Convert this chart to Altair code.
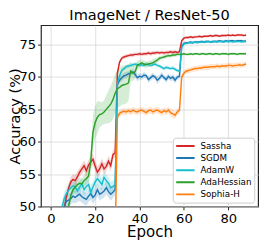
import altair as alt
import pandas as pd

epochs = list(range(89))

methods = ["Sassha", "SGDM", "AdamW", "AdaHessian", "Sophia-H"]
colors = ["#d62728", "#1f77b4", "#17becf", "#2ca02c", "#ff7f0e"]

sassha = [30.0, 38.0, 42.0, 45.0, 47.0, 48.5, 49.6, 51.5, 52.8, 53.8,
          54.2, 54.0, 54.6, 55.3, 55.8, 56.3, 55.5, 56.4, 56.9, 57.3,
          56.2, 55.3, 55.8, 56.6, 55.8, 56.2, 57.0, 56.3, 58.0, 58.3,
          70.6, 72.3, 72.9, 73.1, 73.2, 73.3, 73.4, 73.4, 73.5, 73.5,
          73.6, 73.5, 73.6, 73.6, 73.7, 73.6, 73.7, 73.7, 73.8, 73.7,
          73.8, 73.7, 73.8, 73.8, 73.9, 73.8, 73.9, 73.8, 73.9, 75.6,
          76.0, 76.1, 76.1, 76.2, 76.1, 76.2, 76.2, 76.3, 76.2, 76.3,
          76.3, 76.3, 76.4, 76.3, 76.4, 76.4, 76.3, 76.4, 76.4, 76.4,
          76.5, 76.4, 76.5, 76.4, 76.5, 76.5, 76.5, 76.4, 76.5]
sgdm = [25.0, 33.0, 40.0, 44.0, 47.0, 48.8, 49.8, 50.8, 51.0, 51.2,
        51.6, 51.4, 51.7, 51.9, 51.5, 51.3, 51.1, 51.6, 52.0, 51.4,
        51.8, 52.6, 51.9, 52.1, 52.4, 52.9, 52.3, 51.9, 52.2, 52.6,
        68.8, 69.5, 69.9, 70.2, 70.3, 70.5, 70.6, 70.8, 70.4, 69.9,
        70.1, 70.0, 70.3, 70.2, 69.6, 69.9, 70.2, 70.0, 69.5, 69.8,
        70.3, 69.9, 69.6, 70.1, 69.8, 70.0, 69.5, 70.0, 70.1, 74.8,
        75.2, 75.3, 75.3, 75.4, 75.3, 75.4, 75.4, 75.4, 75.5, 75.4,
        75.5, 75.5, 75.4, 75.5, 75.5, 75.5, 75.6, 75.5, 75.5, 75.6,
        75.5, 75.6, 75.6, 75.5, 75.6, 75.6, 75.6, 75.5, 75.6]
adamw = [28.0, 36.0, 42.0, 46.0, 48.5, 49.8, 51.2, 52.0, 52.5, 52.9,
         53.2, 53.0, 52.4, 53.0, 53.5, 52.6, 53.1, 53.4, 52.2, 53.0,
         53.8, 54.3, 53.9, 53.4, 54.5, 54.0, 53.6, 52.9, 53.1, 53.4,
         69.0, 70.2, 71.0, 71.3, 71.6, 71.7, 71.8, 71.9, 72.0, 71.9,
         71.8, 71.9, 71.8, 72.0, 71.9, 71.8, 71.9, 72.0, 71.8, 71.7,
         71.5, 71.3, 71.5, 71.4, 71.3, 71.4, 71.2, 71.0, 70.9, 74.6,
         75.1, 75.2, 75.3, 75.3, 75.3, 75.4, 75.3, 75.4, 75.4, 75.4,
         75.4, 75.5, 75.4, 75.4, 75.5, 75.4, 75.5, 75.5, 75.4, 75.5,
         75.5, 75.5, 75.4, 75.5, 75.5, 75.5, 75.4, 75.5, 75.5]
adahessian = [20.0, 28.0, 35.0, 40.0, 44.0, 46.5, 48.0, 49.2, 50.0, 51.7,
              52.6, 53.0, 53.4, 53.6, 53.5, 54.0, 54.3, 54.7, 57.0, 61.5,
              63.0, 63.8, 64.2, 64.3, 64.6, 65.0, 65.4, 65.8, 66.5, 67.5,
              68.2, 68.4, 68.7, 68.8, 68.9, 69.1, 70.9, 70.6, 70.8, 71.8,
              72.0, 72.2, 72.0, 71.9, 72.0, 72.1, 72.2, 72.4, 72.6, 72.9,
              73.0, 73.1, 73.2, 73.3, 73.3, 73.4, 73.4, 73.5, 73.5, 73.5,
              73.6, 73.5, 73.5, 73.6, 73.5, 73.6, 73.6, 73.5, 73.6, 73.6,
              73.5, 73.6, 73.6, 73.5, 73.6, 73.6, 73.5, 73.6, 73.6, 73.6,
              73.5, 73.6, 73.6, 73.6, 73.5, 73.6, 73.6, 73.6, 73.6]
sophia = [20.0, 26.0, 30.0, 33.0, 35.0, 36.5, 37.5, 38.5, 39.0, 39.5,
          40.0, 40.5, 41.0, 41.3, 41.6, 42.0, 42.2, 42.5, 42.7, 43.0,
          43.2, 43.4, 43.6, 43.8, 44.0, 44.2, 44.3, 44.5, 44.6, 44.8,
          63.8, 64.4, 64.6, 64.7, 64.6, 64.8, 64.6, 64.9, 64.7, 64.6,
          64.8, 64.9, 64.7, 64.5, 64.8, 64.9, 64.6, 64.8, 64.9, 64.7,
          64.5, 64.8, 64.6, 64.9, 64.5, 64.3, 64.1, 64.6, 64.9, 70.0,
          70.6, 70.9, 71.0, 71.1, 71.2, 71.3, 71.3, 71.4, 71.4, 71.5,
          71.5, 71.5, 71.6, 71.6, 71.6, 71.7, 71.6, 71.7, 71.7, 71.7,
          71.8, 71.8, 71.7, 71.8, 71.8, 71.9, 71.8, 71.9, 72.0]

# half-widths of the shaded spread bands
sassha_sd = [0.9, 0.9, 0.9, 0.9, 0.9, 0.9, 0.9, 0.8, 0.8, 0.8,
             0.8, 0.9, 0.8, 0.7, 0.8, 0.8, 0.9, 0.8, 0.8, 0.9,
             0.8, 0.9, 0.8, 0.8, 0.9, 0.8, 0.8, 0.9, 0.7, 0.6,
             0.4, 0.3, 0.3, 0.3, 0.3, 0.3, 0.3, 0.3, 0.3, 0.3,
             0.3, 0.3, 0.3, 0.3, 0.3, 0.3, 0.3, 0.3, 0.3, 0.3,
             0.3, 0.3, 0.3, 0.3, 0.3, 0.3, 0.3, 0.3, 0.3, 0.3,
             0.2, 0.2, 0.2, 0.2, 0.2, 0.2, 0.2, 0.2, 0.2, 0.2,
             0.2, 0.2, 0.2, 0.2, 0.2, 0.2, 0.2, 0.2, 0.2, 0.2,
             0.2, 0.2, 0.2, 0.2, 0.2, 0.2, 0.2, 0.2, 0.2]
sgdm_sd = [1.0, 1.0, 1.0, 1.0, 1.0, 1.0, 1.0, 1.0, 1.0, 0.9,
           1.0, 0.9, 1.0, 1.0, 0.9, 1.0, 1.0, 0.9, 1.0, 1.0,
           0.9, 1.0, 1.0, 0.9, 1.0, 1.0, 0.9, 1.0, 0.9, 0.8,
           0.6, 0.5, 0.5, 0.5, 0.5, 0.4, 0.5, 0.5, 0.5, 0.6,
           0.5, 0.5, 0.5, 0.4, 0.5, 0.5, 0.5, 0.4, 0.6, 0.5,
           0.5, 0.4, 0.5, 0.5, 0.4, 0.5, 0.5, 0.4, 0.5, 0.4,
           0.2, 0.2, 0.2, 0.2, 0.2, 0.2, 0.2, 0.2, 0.2, 0.2,
           0.2, 0.2, 0.2, 0.2, 0.2, 0.2, 0.2, 0.2, 0.2, 0.2,
           0.2, 0.2, 0.2, 0.2, 0.2, 0.2, 0.2, 0.2, 0.2]
adamw_sd = [1.0, 1.0, 1.0, 1.0, 1.0, 1.0, 1.0, 0.9, 1.0, 1.0,
            0.9, 1.0, 1.0, 0.9, 1.0, 1.0, 0.9, 1.0, 1.0, 0.9,
            1.0, 0.9, 1.0, 1.0, 0.9, 1.0, 1.0, 0.9, 0.9, 0.8,
            0.5, 0.4, 0.3, 0.3, 0.3, 0.3, 0.3, 0.3, 0.3, 0.3,
            0.3, 0.3, 0.3, 0.3, 0.3, 0.3, 0.3, 0.3, 0.3, 0.3,
            0.3, 0.3, 0.3, 0.3, 0.3, 0.3, 0.3, 0.3, 0.3, 0.3,
            0.2, 0.2, 0.2, 0.2, 0.2, 0.2, 0.2, 0.2, 0.2, 0.2,
            0.2, 0.2, 0.2, 0.2, 0.2, 0.2, 0.2, 0.2, 0.2, 0.2,
            0.2, 0.2, 0.2, 0.2, 0.2, 0.2, 0.2, 0.2, 0.2]
adahessian_sd = [0.8, 0.8, 0.8, 0.8, 0.8, 0.8, 0.8, 0.8, 0.8, 0.8,
                 0.8, 0.8, 0.8, 0.8, 0.8, 0.9, 0.9, 1.0, 2.0, 2.5,
                 2.5, 2.5, 2.0, 1.8, 1.8, 2.2, 2.5, 2.8, 3.0, 3.0,
                 3.0, 3.0, 3.0, 3.0, 3.0, 2.8, 1.5, 1.2, 1.0, 0.8,
                 0.6, 0.5, 0.5, 0.5, 0.5, 0.5, 0.5, 0.5, 0.4, 0.4,
                 0.3, 0.3, 0.3, 0.3, 0.3, 0.3, 0.3, 0.3, 0.3, 0.3,
                 0.2, 0.2, 0.2, 0.2, 0.2, 0.2, 0.2, 0.2, 0.2, 0.2,
                 0.2, 0.2, 0.2, 0.2, 0.2, 0.2, 0.2, 0.2, 0.2, 0.2,
                 0.2, 0.2, 0.2, 0.2, 0.2, 0.2, 0.2, 0.2, 0.2]
sophia_sd = [0.5, 0.5, 0.5, 0.5, 0.5, 0.5, 0.5, 0.5, 0.5, 0.5,
             0.5, 0.5, 0.5, 0.5, 0.5, 0.5, 0.5, 0.5, 0.5, 0.5,
             0.5, 0.5, 0.5, 0.5, 0.5, 0.5, 0.5, 0.5, 0.5, 0.5,
             0.6, 0.5, 0.5, 0.5, 0.5, 0.5, 0.5, 0.5, 0.5, 0.5,
             0.5, 0.5, 0.5, 0.5, 0.5, 0.5, 0.5, 0.5, 0.5, 0.5,
             0.5, 0.5, 0.5, 0.5, 0.6, 0.6, 0.6, 0.5, 0.5, 0.5,
             0.4, 0.4, 0.4, 0.4, 0.4, 0.4, 0.4, 0.4, 0.4, 0.4,
             0.4, 0.4, 0.4, 0.4, 0.4, 0.4, 0.4, 0.4, 0.4, 0.4,
             0.4, 0.4, 0.4, 0.4, 0.4, 0.4, 0.4, 0.4, 0.4]

series = {"Sassha": (sassha, sassha_sd), "SGDM": (sgdm, sgdm_sd),
          "AdamW": (adamw, adamw_sd), "AdaHessian": (adahessian, adahessian_sd),
          "Sophia-H": (sophia, sophia_sd)}

rows = []
for k, m in enumerate(methods):
    vals, sds = series[m]
    for e, v, s in zip(epochs, vals, sds):
        rows.append({"epoch": e, "acc": v, "lo": v - s, "hi": v + s,
                     "method": m, "k": k})
df = pd.DataFrame(rows)

FONT = "DejaVu Sans"
xs = alt.Scale(domain=[-4.45, 93.45], nice=False, zero=False)
ys = alt.Scale(domain=[50, 78], nice=False, zero=False)
cs = alt.Scale(domain=methods, range=colors)

x_axis = alt.Axis(values=[0, 20, 40, 60, 80], titleY=31,
                  titleBaseline="alphabetic")
y_axis = alt.Axis(values=[50, 55, 60, 65, 70, 75], titleX=-22,
                  titleFontSize=15,
                  titleBaseline="alphabetic", labelOverlap=False)
legend = alt.Legend(orient="bottom-right", offset=4,
                    title=None, fillColor="white",
                    strokeColor="#cccccc", cornerRadius=3,
                    padding=2.5, symbolType="stroke",
                    symbolSize=360, symbolStrokeWidth=2,
                    symbolOpacity=1, clipHeight=12,
                    labelFontSize=9, labelFont=FONT,
                    labelColor="#000000", labelOffset=5,
                    rowPadding=0.5)

base = alt.Chart(df)

band = base.mark_area(clip=True, opacity=0.2).encode(
    x=alt.X("epoch:Q", scale=xs, title="Epoch", axis=x_axis),
    y=alt.Y("lo:Q", scale=ys, title="Accuracy (%)", axis=y_axis),
    y2="hi:Q",
    color=alt.Color("method:N", scale=cs, sort=methods, legend=legend),
    detail="method:N",
)

line = base.mark_line(clip=True, strokeWidth=1.5).encode(
    x=alt.X("epoch:Q", scale=xs, title="Epoch", axis=x_axis),
    y=alt.Y("acc:Q", scale=ys, title="Accuracy (%)", axis=y_axis),
    color=alt.Color("method:N", scale=cs, sort=methods, legend=legend),
    order="epoch:Q",
)

chart = alt.layer(band, line).properties(
    width=224, height=187,
    title=alt.Title("ImageNet / ResNet-50", fontSize=15, font=FONT,
                    fontWeight="normal", color="#000000", offset=-13,
                    baseline="bottom", anchor="middle"),
    autosize=alt.AutoSizeParams(type="none"),
    padding={"left": 34, "top": 14, "right": 4, "bottom": 38},
).configure_view(
    stroke="#222222", strokeWidth=1.2
).configure_axis(
    labelFont=FONT, labelFontSize=13.5, labelColor="#000000",
    titleFont=FONT, titleFontSize=15.5, titleFontWeight="normal",
    titleColor="#000000", grid=True, gridColor="#d5d5d5", gridWidth=0.8,
    domain=False, tickColor="#222222", tickSize=3.5, tickWidth=1,
    labelPadding=2,
)

chart.save("out.html", embed_options={"renderer": "svg", "actions": False})
